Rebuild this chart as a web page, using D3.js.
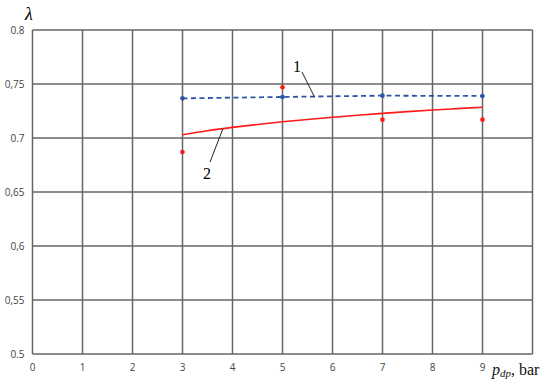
<!DOCTYPE html>
<html><head><meta charset="utf-8">
<script src="https://cdn.jsdelivr.net/npm/d3@7"></script>
<style>body{margin:0;background:#fff}svg{display:block}</style>
</head><body>
<svg id="c" width="550" height="386"></svg>
<script>
const xTicks = [0,1,2,3,4,5,6,7,8,9];
const yTicks = [0.5,0.55,0.6,0.65,0.7,0.75,0.8];
const yTickLabels = ["0.5","0,55","0,6","0,65","0.7","0,75","0.8"];
const pressure = [3,5,7,9];
const series1 = [0.7367,0.738,0.7392,0.7389];
const points2 = [0.687,0.747,0.717,0.717];
const curveX = [3,3.5,4,4.5,5,5.5,6,6.5,7,7.5,8,8.5,9];
const curve2 = [0.703,0.7067,0.7098,0.7125,0.715,0.7172,0.7192,0.7211,0.7228,0.7244,0.7259,0.7272,0.7285];

const svg = d3.select("#c");
const x = d3.scaleLinear().domain([0,10]).range([32.5,532.5]);
const y = d3.scaleLinear().domain([0.5,0.8]).range([354,30]);
const grid = "#666";

// grid
svg.append("g").selectAll("line").data(d3.range(0,11)).join("line")
  .attr("x1",d=>x(d)).attr("x2",d=>x(d)).attr("y1",y(0.5)).attr("y2",y(0.8))
  .attr("stroke",grid).attr("stroke-width",1.5);
svg.append("g").selectAll("line").data(yTicks).join("line")
  .attr("x1",x(0)).attr("x2",x(10)).attr("y1",d=>y(d)).attr("y2",d=>y(d))
  .attr("stroke",grid).attr("stroke-width",1.5);

// tick labels
svg.append("g").selectAll("text").data(yTicks).join("text")
  .attr("x",24.5).attr("y",d=>y(d)).attr("dy","0.35em").attr("text-anchor","end")
  .attr("font-family","Open Sans, sans-serif").attr("font-size",10).attr("fill","#444")
  .text((d,i)=>yTickLabels[i]);
svg.append("g").selectAll("text").data(xTicks).join("text")
  .attr("x",d=>x(d)).attr("y",367).attr("dy","0.35em").attr("text-anchor","middle")
  .attr("font-family","Open Sans, sans-serif").attr("font-size",10).attr("fill","#444")
  .text(d=>d);

// axis titles
svg.append("text").attr("x",25).attr("y",20).attr("font-family","Liberation Serif, serif")
  .attr("font-style","italic").attr("font-size",18).text("λ");
const t = svg.append("text").attr("x",492).attr("y",375).attr("font-family","Liberation Serif, serif")
  .attr("font-size",16).attr("fill","#111");
t.append("tspan").attr("font-style","italic").text("p");
t.append("tspan").attr("font-style","italic").attr("font-size",11).attr("dy",2).text("dp");
t.append("tspan").attr("dy",-2).text(", bar");

// series 1 dashed
svg.append("path").datum(pressure.map((p,i)=>[p,series1[i]]))
  .attr("d",d3.line().x(d=>x(d[0])).y(d=>y(d[1])))
  .attr("fill","none").attr("stroke","#2e54a8").attr("stroke-width",1.8).attr("stroke-dasharray","5,3.5");
svg.append("g").selectAll("circle").data(pressure).join("circle")
  .attr("cx",d=>x(d)).attr("cy",(d,i)=>y(series1[i])).attr("r",2.3).attr("fill","#2e54a8");

// series 2 curve
svg.append("path").datum(curveX.map((p,i)=>[p,curve2[i]]))
  .attr("d",d3.line().curve(d3.curveMonotoneX).x(d=>x(d[0])).y(d=>y(d[1])))
  .attr("fill","none").attr("stroke","#ff1a1a").attr("stroke-width",1.6);
svg.append("g").selectAll("circle").data(pressure).join("circle")
  .attr("cx",d=>x(d)).attr("cy",(d,i)=>y(points2[i])).attr("r",2.3).attr("fill","#ff1a1a");

// labels with leaders
svg.append("line").attr("x1",302).attr("y1",72).attr("x2",314.5).attr("y2",97).attr("stroke","#222").attr("stroke-width",1);
svg.append("text").attr("x",297).attr("y",72).attr("text-anchor","middle").attr("font-family","Liberation Serif, serif").attr("font-size",16).text("1");
svg.append("line").attr("x1",210).attr("y1",162).attr("x2",223).attr("y2",128.5).attr("stroke","#222").attr("stroke-width",1);
svg.append("text").attr("x",207).attr("y",179).attr("text-anchor","middle").attr("font-family","Liberation Serif, serif").attr("font-size",16).text("2");
</script>
</body></html>
